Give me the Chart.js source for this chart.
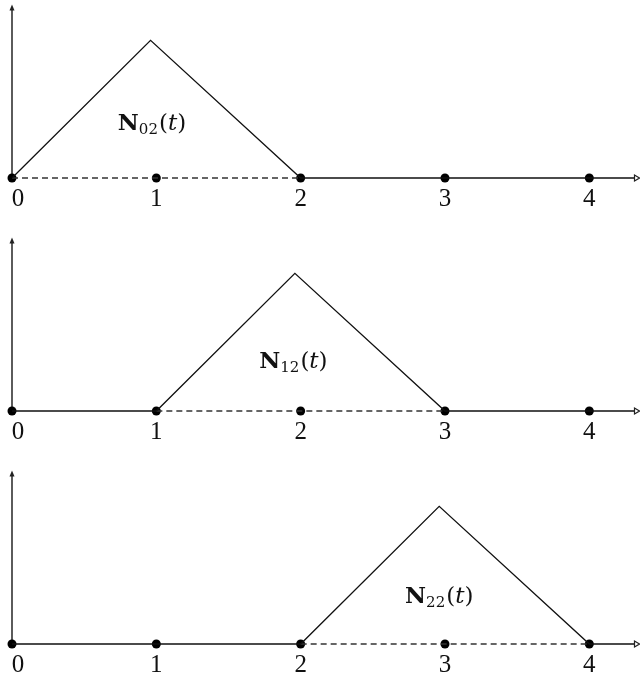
<!DOCTYPE html>
<html>
<head>
<meta charset="utf-8">
<script src="https://cdn.jsdelivr.net/npm/chart.js@4"></script>
<style>
  html, body { margin: 0; padding: 0; background: #fff; overflow: hidden; }
  .panel { width: 640px; height: 233px; }
  canvas { display: block; }
</style>
</head>
<body>
<div class="panel"><canvas id="c0" width="640" height="233"></canvas></div>
<div class="panel"><canvas id="c1" width="640" height="233"></canvas></div>
<div class="panel"><canvas id="c2" width="640" height="233"></canvas></div>
<script>
// Hat functions N_{i2}(t) on knots 0..4, one small chart per basis function.
const knots = [0, 1, 2, 3, 4];
const tickLabels = ['0', '1', '2', '3', '4'];
const axisEnd = 4.32;   // t where the horizontal axis arrow stops
const axisTop = 1.26;   // value where the vertical axis arrow stops

const n02T = [0, 0.96, 2, axisEnd];
const n02V = [0, 1, 0, 0];
const n12T = [0, 1, 1.96, 3, axisEnd];
const n12V = [0, 0, 1, 0, 0];
const n22T = [0, 2, 2.96, 4, axisEnd];
const n22V = [0, 0, 1, 0, 0];

// dashed support segment under each hat
const supportStart = [0, 1, 2];
const supportEnd = [2, 3, 4];

const subscripts = ['02', '12', '22'];
const labelT = [0.97, 1.95, 2.96];
const labelV = [0.35, 0.31, 0.30];

const curvesT = [n02T, n12T, n22T];
const curvesV = [n02V, n12V, n22V];

function pts(ts, vs) {
  return ts.map((t, i) => ({ x: t, y: vs[i] }));
}

const SERIF = '"DejaVu Serif", "Liberation Serif", serif';
const TICK_FONT = '25px "Liberation Serif", serif';

// axes with arrowheads, tick labels and the N_ij(t) caption
const decor = {
  id: 'decor',
  beforeDatasetsDraw(chart, args, opts) {
    const ctx = chart.ctx;
    const xs = chart.scales.x, ys = chart.scales.y;
    const x0 = xs.getPixelForValue(0), y0 = ys.getPixelForValue(0);
    const yTop = ys.getPixelForValue(axisTop);
    ctx.save();
    ctx.strokeStyle = '#333';
    ctx.fillStyle = '#222';
    ctx.lineWidth = 1.6;
    ctx.beginPath();
    ctx.moveTo(x0, y0);
    ctx.lineTo(x0, yTop + 4);
    ctx.stroke();
    ctx.beginPath();
    ctx.moveTo(x0, yTop);
    ctx.lineTo(x0 - 2.5, yTop + 6);
    ctx.lineTo(x0 + 2.5, yTop + 6);
    ctx.closePath();
    ctx.fill();
    ctx.restore();
  },
  afterDatasetsDraw(chart, args, opts) {
    const ctx = chart.ctx;
    const xs = chart.scales.x, ys = chart.scales.y;
    const y0 = ys.getPixelForValue(0);
    const xEnd = xs.getPixelForValue(axisEnd);
    ctx.save();
    // open arrow tip on the t axis
    ctx.strokeStyle = '#222';
    ctx.fillStyle = '#fff';
    ctx.lineWidth = 1.2;
    ctx.beginPath();
    ctx.moveTo(xEnd + 4, y0);
    ctx.lineTo(xEnd - 1, y0 - 3);
    ctx.lineTo(xEnd - 1, y0 + 3);
    ctx.closePath();
    ctx.fill();
    ctx.stroke();

    // tick labels
    ctx.fillStyle = '#111';
    ctx.font = TICK_FONT;
    ctx.textAlign = 'center';
    ctx.textBaseline = 'alphabetic';
    knots.forEach((k, i) => {
      let px = xs.getPixelForValue(k);
      if (i === 0) px += 6;
      ctx.fillText(tickLabels[i], px, y0 + 28);
    });

    // caption N_ij(t)
    const idx = opts.index;
    const parts = [
      { s: 'N', f: 'bold 23px ' + SERIF, dy: 0 },
      { s: subscripts[idx], f: '15px ' + SERIF, dy: 4 },
      { s: '(', f: '23px ' + SERIF, dy: 0 },
      { s: 't', f: 'italic 23px ' + SERIF, dy: 0 },
      { s: ')', f: '23px ' + SERIF, dy: 0 }
    ];
    let w = 0;
    parts.forEach(p => { ctx.font = p.f; p.w = ctx.measureText(p.s).width; w += p.w + (p.s === '(' ? 1 : 0); });
    let cx = xs.getPixelForValue(labelT[idx]) - w / 2;
    const by = ys.getPixelForValue(labelV[idx]);
    ctx.textAlign = 'left';
    parts.forEach(p => {
      ctx.font = p.f;
      if (p.s === '(') cx += 1;
      ctx.fillText(p.s, cx, by + p.dy);
      cx += p.w;
    });
    ctx.restore();
  }
};

function makePanel(i) {
  new Chart(document.getElementById('c' + i), {
    type: 'scatter',
    data: {
      datasets: [
        {
          data: pts(curvesT[i], curvesV[i]),
          showLine: true,
          borderColor: '#111',
          borderWidth: 1.3,
          pointRadius: 0,
          clip: false
        },
        {
          data: pts([supportStart[i], supportEnd[i]], [0, 0]),
          showLine: true,
          borderColor: '#333',
          borderWidth: 1.3,
          borderDash: [6, 4],
          pointRadius: 0,
          clip: false
        },
        {
          data: pts(knots, knots.map(() => 0)),
          showLine: false,
          pointRadius: 4.5,
          pointBackgroundColor: '#000',
          pointBorderWidth: 0,
          clip: false
        }
      ]
    },
    options: {
      responsive: false,
      devicePixelRatio: 1,
      animation: false,
      layout: { padding: { left: 12, right: 4, top: 3, bottom: 55 } },
      scales: {
        x: { type: 'linear', min: 0, max: axisEnd, display: false },
        y: { type: 'linear', min: 0, max: axisTop, display: false }
      },
      plugins: {
        legend: { display: false },
        tooltip: { enabled: false },
        decor: { index: i }
      }
    },
    plugins: [decor]
  });
}

[0, 1, 2].forEach(makePanel);
</script>
</body>
</html>
